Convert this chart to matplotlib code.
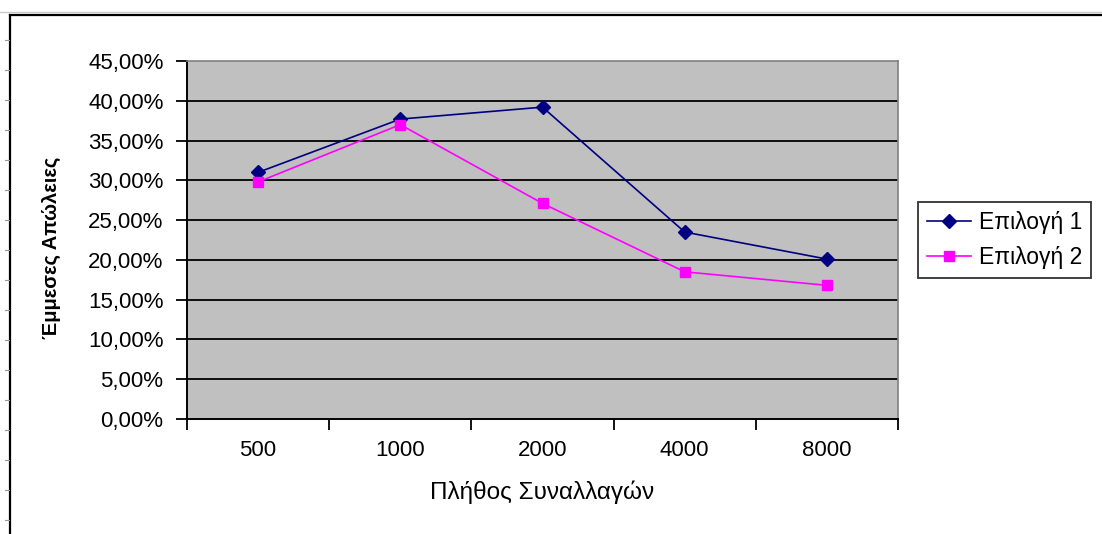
import matplotlib.pyplot as plt
from matplotlib.lines import Line2D
from matplotlib.ticker import FixedLocator, NullFormatter, FuncFormatter

plt.rcParams['font.family'] = ['Liberation Sans', 'DejaVu Sans']

categories = ['500', '1000', '2000', '4000', '8000']
option1 = [31.0, 37.7, 39.2, 23.5, 20.1]
option2 = [29.8, 37.0, 27.1, 18.5, 16.8]
series_names = ['Επιλογή 1', 'Επιλογή 2']

W, H = 1102, 534
fig = plt.figure(figsize=(W / 100, H / 100), dpi=100)
fig.patch.set_facecolor('white')

# spreadsheet frame bits around the chart
fig.add_artist(Line2D([10/W, 10/W], [0, 1 - 15/H], color='black', lw=1.6))
fig.add_artist(Line2D([10/W, 1], [1 - 15/H, 1 - 15/H], color='black', lw=1.6))
fig.add_artist(Line2D([0, 1], [1 - 12/H, 1 - 12/H], color='#c8c8c8', lw=1.0))
for yy in range(40, H, 30):
    fig.add_artist(Line2D([5/W, 9/W], [1 - yy/H, 1 - yy/H], color='#999999', lw=0.8))

ax = fig.add_axes([187/W, 1 - 419/H, 711/W, 358/H])
ax.set_facecolor('#c0c0c0')

x = list(range(len(categories)))
ax.plot(x, option1, color='#000080', lw=1.2, marker='D', markersize=7,
        label=series_names[0], zorder=3)
ax.plot(x, option2, color='#ff00ff', lw=1.2, marker='s', markersize=7.5,
        label=series_names[1], zorder=3)

ax.set_xlim(-0.5, len(categories) - 0.5)
ax.set_ylim(0, 45)

yt = list(range(0, 50, 5))
ax.set_yticks(yt)
ax.yaxis.set_major_formatter(FuncFormatter(lambda v, p: f'{v:.2f}%'.replace('.', ',')))
for v in yt[1:-1]:
    ax.axhline(v, color='black', lw=1.3, zorder=1)

ax.xaxis.set_major_locator(FixedLocator([i - 0.5 for i in range(len(categories) + 1)]))
ax.xaxis.set_major_formatter(NullFormatter())
ax.xaxis.set_minor_locator(FixedLocator(x))
ax.set_xticklabels(categories, minor=True)
ax.tick_params(axis='x', which='major', direction='out', length=8, width=1.3)
ax.tick_params(axis='x', which='minor', length=0, pad=15, labelsize=16)
ax.tick_params(axis='y', direction='out', length=8, width=1.3, labelsize=16, pad=9)

for s in ['top', 'right']:
    ax.spines[s].set_color('#808080')
    ax.spines[s].set_linewidth(1.2)
for s in ['left', 'bottom']:
    ax.spines[s].set_color('black')
    ax.spines[s].set_linewidth(1.4)

ax.set_xlabel('Πλήθος Συναλλαγών', fontsize=17.5)
ax.xaxis.set_label_coords(0.5, (419 - 480) / 358)
ax.set_ylabel('Έμμεσες Απώλειες', fontsize=14.5, fontweight='bold')
ax.yaxis.set_label_coords((61 - 187) / 711, 0.5 - (248 - 240) / 358)

leg = fig.legend(loc='upper left', bbox_to_anchor=(918/W, 1 - 202/H),
                 borderaxespad=0, fontsize=16.5, frameon=True, fancybox=False,
                 edgecolor='black', handlelength=1.9, borderpad=0.4,
                 labelspacing=0.5, handletextpad=0.35)
leg.get_frame().set_linewidth(1.3)

fig.savefig('out.png', dpi=100)
